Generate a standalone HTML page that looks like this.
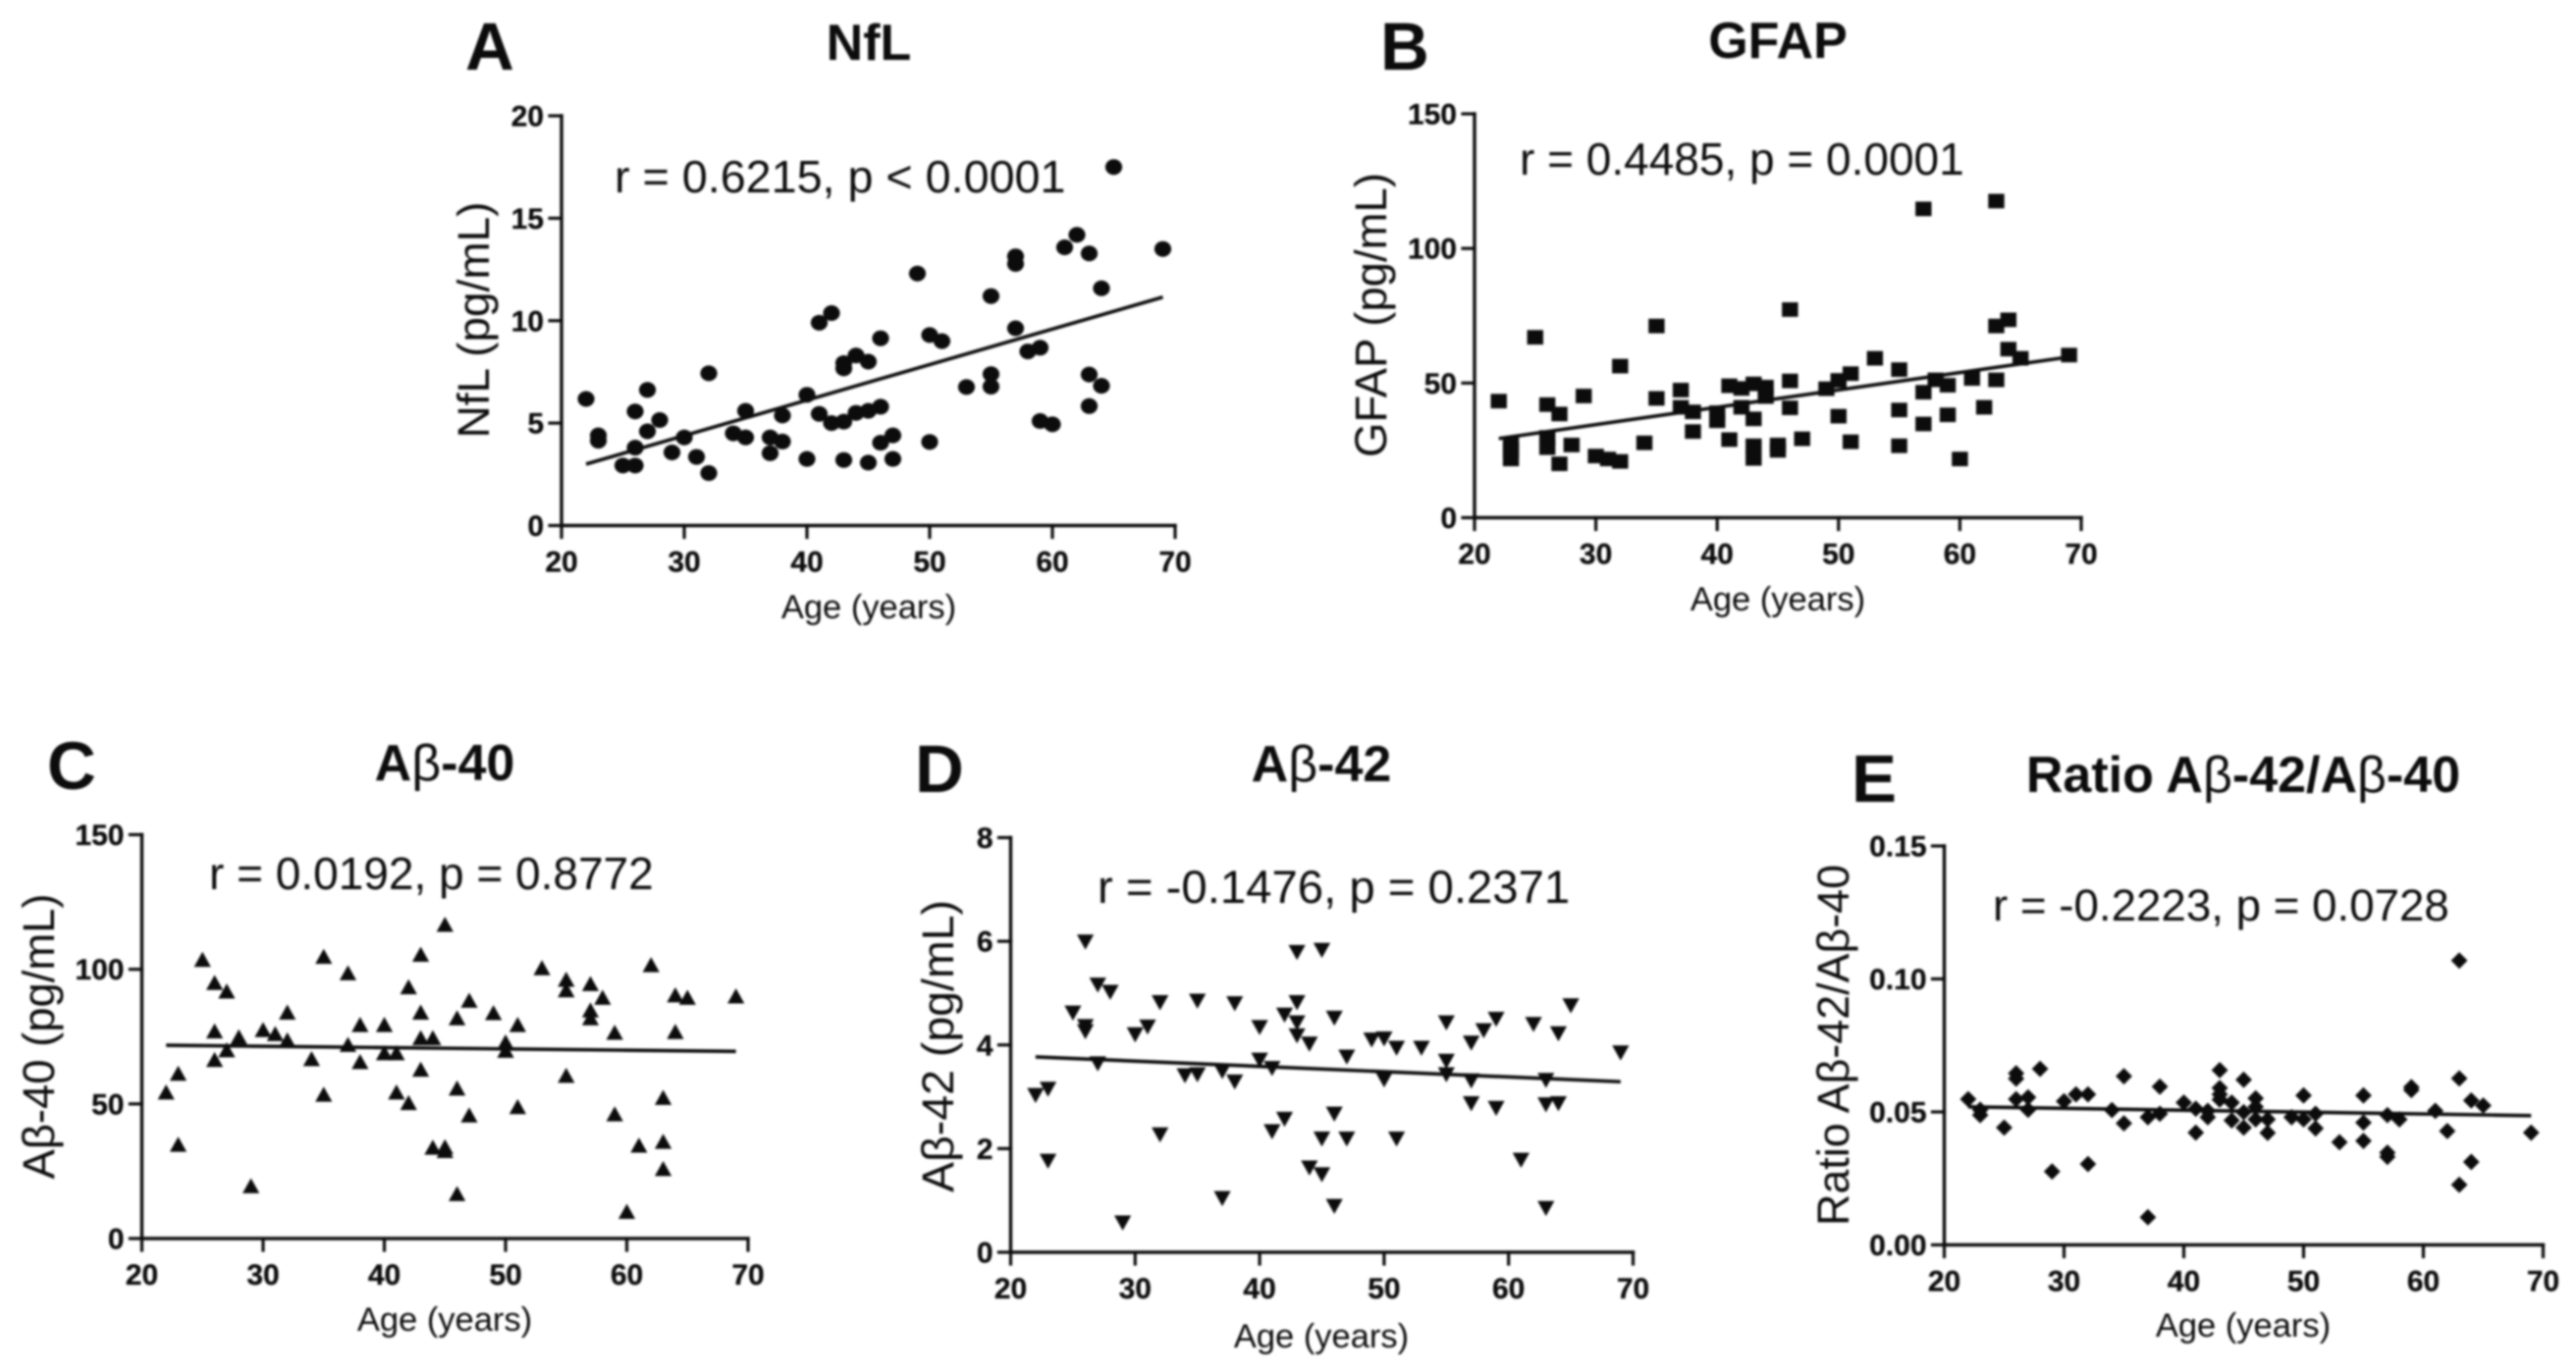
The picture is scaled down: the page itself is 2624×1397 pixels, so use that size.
<!DOCTYPE html>
<html lang="en">
<head>
<meta charset="utf-8">
<title>Age correlations of NfL, GFAP and amyloid beta</title>
<style>
html,body{margin:0;padding:0;background:#fff;width:2624px;height:1397px;overflow:hidden}
svg{display:block;filter:blur(1px)}
text{font-family:"Liberation Sans",Arial,sans-serif;fill:#0c0c0c}
.letter{font-size:69px;font-weight:700}
.title{font-size:52px;font-weight:700;text-anchor:middle}
.title tspan{font-weight:400}
.rtext{font-size:46px}
.ylab{font-size:45px;text-anchor:middle}
.xlab{font-size:34.5px;text-anchor:middle}
.tick{font-size:30px;font-weight:700;stroke:#0c0c0c;stroke-width:0.3px}
</style>
</head>
<body>
<svg xmlns="http://www.w3.org/2000/svg" width="2624" height="1397" viewBox="0 0 2624 1397">
  <rect width="2624" height="1397" fill="#fff"/>

  <g id="panel-a">
    <text class="letter" x="474" y="71">A</text>
    <text class="title" x="885" y="61">NfL</text>
    <text class="rtext" x="626" y="196" style="font-size:46.7px">r = 0.6215, p &lt; 0.0001</text>
    <text class="ylab" transform="translate(498 326) rotate(-90)" textLength="241" lengthAdjust="spacingAndGlyphs">NfL (pg/mL)</text>
    <text class="xlab" x="885" y="630">Age (years)</text>
  </g>

  <g id="panel-b">
    <text class="letter" x="1406" y="71">B</text>
    <text class="title" x="1811" y="59">GFAP</text>
    <text class="rtext" x="1548" y="178">r = 0.4485, p = 0.0001</text>
    <text class="ylab" transform="translate(1412 321) rotate(-90)" textLength="290" lengthAdjust="spacingAndGlyphs">GFAP (pg/mL)</text>
    <text class="xlab" x="1811" y="622">Age (years)</text>
  </g>

  <g id="panel-c">
    <text class="letter" x="48" y="804">C</text>
    <text class="title" x="453" y="795">A<tspan>β</tspan>-40</text>
    <text class="rtext" x="213" y="906">r = 0.0192, p = 0.8772</text>
    <text class="ylab" transform="translate(55 1056) rotate(-90)" textLength="291" lengthAdjust="spacingAndGlyphs">Aβ-40 (pg/mL)</text>
    <text class="xlab" x="453" y="1356">Age (years)</text>
  </g>

  <g id="panel-d">
    <text class="letter" x="932" y="807">D</text>
    <text class="title" x="1346" y="796">A<tspan>β</tspan>-42</text>
    <text class="rtext" x="1118" y="920" style="font-size:47.3px">r = -0.1476, p = 0.2371</text>
    <text class="ylab" transform="translate(971 1066) rotate(-90)" textLength="298" lengthAdjust="spacingAndGlyphs">Aβ-42 (pg/mL)</text>
    <text class="xlab" x="1346" y="1373">Age (years)</text>
  </g>

  <g id="panel-e">
    <text class="letter" x="1886" y="817">E</text>
    <text class="title" x="2285" y="807">Ratio A<tspan>β</tspan>-42/A<tspan>β</tspan>-40</text>
    <text class="rtext" x="2030" y="938" style="font-size:45.7px">r = -0.2223, p = 0.0728</text>
    <text class="ylab" transform="translate(1883 1065) rotate(-90)" textLength="368" lengthAdjust="spacingAndGlyphs">Ratio Aβ-42/Aβ-40</text>
    <text class="xlab" x="2285" y="1362">Age (years)</text>
  </g>
</svg>

<script>
const xTicks = [20, 30, 40, 50, 60, 70];

const agesA = [22,23,23,25,26,26,26,27,27,28,29,30,31,32,32,34,35,35,37,37,38,38,40,40,41,41,42,42,43,43,43,43,44,44,45,45,45,46,46,46,47,47,49,50,50,51,53,55,55,55,57,57,57,58,59,59,60,61,62,63,63,63,64,64,65,69];
const valuesA = [6.18,4.4,4.14,2.93,5.57,3.8,2.93,6.62,4.6,5.15,3.57,4.3,3.35,7.43,2.56,4.5,5.6,4.3,4.3,3.53,5.37,4.1,6.38,3.25,9.9,5.45,10.37,5,7.93,7.67,5.07,3.2,8.3,5.5,8,5.6,3.07,9.14,5.8,4.04,4.4,3.25,12.3,9.3,4.08,9,6.76,11.2,7.39,6.78,13.14,12.77,9.63,8.5,8.68,5.1,4.94,13.58,14.19,13.28,7.37,5.83,11.58,6.82,17.5,13.5];
const yTicksA = [0, 5, 10, 15, 20];
const yLabelsA = ['0', '5', '10', '15', '20'];
const trendAgesA = [22, 69];
const trendValuesA = [3.0, 11.15];

const agesB = [22,23,23,23,25,26,26,26,27,27,28,29,30,31,32,32,34,35,35,37,37,38,38,40,40,41,41,42,42,43,43,43,43,44,44,45,45,46,46,46,47,49,50,50,51,51,53,55,55,55,57,57,57,58,59,59,60,61,62,63,63,63,64,64,65,69];
const valuesB = [43.3,27.5,25,21.8,67,42,29.8,26,38.5,20,27,45.2,22.9,21.8,56.3,20.9,27.8,71.2,44.3,47.4,41,39.3,32,39,36,49,29,48,41,49.7,36.7,26.7,22,48.5,45,27,25,77.3,50.8,40.8,29.3,47.9,51,37.7,53.5,28.2,59.2,55,40,26.7,114.7,46.6,34.8,51.2,49.2,38.2,21.8,51.7,41,117.6,71.2,51.2,73.5,62.6,59.2,60.4];
const yTicksB = [0, 50, 100, 150];
const yLabelsB = ['0', '50', '100', '150'];
const trendAgesB = [22, 69];
const trendValuesB = [29.4, 59.7];

const agesC = [22,23,23,25,26,26,26,27,27,28,29,30,31,32,32,34,35,35,37,37,38,38,40,40,41,41,42,42,43,43,43,43,44,44,45,45,45,46,46,46,47,47,49,50,50,51,51,53,55,55,55,57,57,57,58,59,59,60,61,62,63,63,63,64,64,65,69];
const valuesC = [54.3,61.3,34.9,103.6,95,77,66.4,91.8,70,74.8,19.5,77.5,76,84,73.7,66.7,104.7,53.5,98.6,72,79.4,65.6,79.4,68.9,68.9,54.3,93.4,50.4,105.5,84,74.5,62.8,74.5,33.8,116.6,34,32.6,81.9,55.8,16.6,88.4,45.8,83.8,72.9,69.8,79.4,48.9,100.5,96.2,92.3,60.5,94.6,84.8,81.9,89.5,76.5,46.2,10,34.6,101.6,52.3,36,25.9,90.4,76.8,89.5,90];
const yTicksC = [0, 50, 100, 150];
const yLabelsC = ['0', '50', '100', '150'];
const trendAgesC = [22, 69];
const trendValuesC = [71.8, 69.5];

const agesD = [22,23,23,25,26,26,26,27,27,28,29,30,31,32,32,34,35,35,37,37,38,38,40,40,41,41,42,42,43,43,43,43,44,44,45,45,45,46,46,46,47,47,49,50,50,51,51,53,55,55,55,57,57,57,58,59,59,61,62,63,63,63,64,64,65,69];
const valuesD = [3.03,3.15,1.76,4.62,5.99,4.36,4.26,5.16,3.64,5.02,0.57,4.2,4.35,4.82,2.27,3.41,4.85,3.43,3.49,1.04,4.8,3.29,4.34,3.71,3.55,2.33,4.58,2.57,5.79,4.82,4.43,4.18,4.02,1.63,5.83,2.19,1.5,4.52,2.67,0.89,3.77,2.19,4.1,4.12,3.33,3.94,2.19,3.94,4.43,3.69,3.43,4.04,3.31,2.87,4.28,4.5,2.78,1.78,4.4,3.32,2.85,0.85,4.22,2.87,4.76,3.85];
const yTicksD = [0, 2, 4, 6, 8];
const yLabelsD = ['0', '2', '4', '6', '8'];
const trendAgesD = [22, 69];
const trendValuesD = [3.77, 3.29];

const agesE = [22,23,23,25,26,26,26,27,27,28,29,30,31,32,32,34,35,35,37,37,38,38,40,41,41,42,42,43,43,43,43,44,44,45,45,45,46,46,46,47,47,49,50,50,51,51,53,55,55,55,57,57,57,58,59,59,61,62,63,63,63,64,64,65,69];
const valuesE = [0.0548,0.0508,0.0488,0.0441,0.0645,0.0625,0.0548,0.0555,0.0508,0.0662,0.0276,0.054,0.0566,0.0566,0.0304,0.0507,0.0634,0.0457,0.048,0.0104,0.0595,0.0493,0.0535,0.0512,0.0422,0.0504,0.048,0.0657,0.059,0.0566,0.0546,0.0535,0.0468,0.0621,0.0499,0.0441,0.0551,0.0519,0.0472,0.0472,0.0421,0.048,0.0562,0.0472,0.0493,0.0438,0.0386,0.0562,0.046,0.0391,0.0488,0.0347,0.0331,0.0472,0.0593,0.0582,0.0504,0.0428,0.1069,0.0626,0.0226,0.0543,0.0312,0.0524,0.0422];
const yTicksE = [0, 0.05, 0.1, 0.15];
const yLabelsE = ['0.00', '0.05', '0.10', '0.15'];
const trendAgesE = [22, 69];
const trendValuesE = [0.0519, 0.0486];

const SVG_NS = 'http://www.w3.org/2000/svg';
const INK = '#0c0c0c';

function linearScale(domain0, domain1, range0, range1) {
  return function (v) { return range0 + (v - domain0) * (range1 - range0) / (domain1 - domain0); };
}

function makeMark(shape, cx, cy) {
  let el;
  if (shape === 'circle') {
    el = document.createElementNS(SVG_NS, 'ellipse');
    el.setAttribute('cx', cx);
    el.setAttribute('cy', cy);
    el.setAttribute('rx', 8.6);
    el.setAttribute('ry', 8);
  } else if (shape === 'square') {
    el = document.createElementNS(SVG_NS, 'rect');
    el.setAttribute('x', cx - 8.2);
    el.setAttribute('y', cy - 7.4);
    el.setAttribute('width', 16.4);
    el.setAttribute('height', 14.8);
  } else {
    el = document.createElementNS(SVG_NS, 'polygon');
    let pts;
    if (shape === 'triangle-up') {
      pts = [[cx, cy - 8], [cx + 8.6, cy + 7.4], [cx - 8.6, cy + 7.4]];
    } else if (shape === 'triangle-down') {
      pts = [[cx, cy + 8], [cx + 8.6, cy - 7.4], [cx - 8.6, cy - 7.4]];
    } else {
      pts = [[cx, cy - 8.4], [cx + 8.4, cy], [cx, cy + 8.4], [cx - 8.4, cy]];
    }
    el.setAttribute('points', pts.map(function (p) { return p.join(','); }).join(' '));
  }
  el.setAttribute('fill', INK);
  return el;
}

function makeLine(x1, y1, x2, y2, width) {
  const el = document.createElementNS(SVG_NS, 'line');
  el.setAttribute('x1', x1);
  el.setAttribute('y1', y1);
  el.setAttribute('x2', x2);
  el.setAttribute('y2', y2);
  el.setAttribute('stroke', INK);
  el.setAttribute('stroke-width', width);
  el.setAttribute('stroke-linecap', 'square');
  return el;
}

function drawPanel(id, frame, shape, ages, values, yTicks, yLabels, trendAges, trendValues) {
  const group = document.getElementById(id);
  const xScale = linearScale(xTicks[0], xTicks[xTicks.length - 1], frame.left, frame.right);
  const yScale = linearScale(yTicks[0], yTicks[yTicks.length - 1], frame.bottom, frame.top);

  const xAxis = makeLine(frame.left, frame.bottom, frame.right, frame.bottom, 3.4);
  
  
  group.appendChild(xAxis);

  const yAxis = makeLine(frame.left, frame.top, frame.left, frame.bottom, 3.4);
  
  
  group.appendChild(yAxis);

  xTicks.forEach(function (t) {
    const x = xScale(t);
    const tick = makeLine(x, frame.bottom, x, frame.bottom + 12, 3.2);
    
    
    group.appendChild(tick);

    const label = document.createElementNS(SVG_NS, 'text');
    label.setAttribute('class', 'tick');
    label.setAttribute('x', x);
    label.setAttribute('y', frame.bottom + 47);
    label.setAttribute('text-anchor', 'middle');
    label.textContent = String(t);
    
    
    group.appendChild(label);
  });

  yTicks.forEach(function (t, i) {
    const y = yScale(t);
    const tick = makeLine(frame.left - 12, y, frame.left, y, 3.2);
    
    
    group.appendChild(tick);

    const label = document.createElementNS(SVG_NS, 'text');
    label.setAttribute('class', 'tick');
    label.setAttribute('x', frame.left - 18);
    label.setAttribute('y', y + 10.5);
    label.setAttribute('text-anchor', 'end');
    label.textContent = yLabels[i];
    
    
    group.appendChild(label);
  });

  ages.forEach(function (age, i) {
    const mark = makeMark(shape, xScale(age), yScale(values[i]));
    
    
    group.appendChild(mark);
  });

  const trend = makeLine(xScale(trendAges[0]), yScale(trendValues[0]), xScale(trendAges[1]), yScale(trendValues[1]), 3.6);
  trend.setAttribute('stroke-linecap', 'butt');
  
  
  group.appendChild(trend);
}

drawPanel('panel-a', {left: 572, right: 1197, top: 118, bottom: 535.5}, 'circle', agesA, valuesA, yTicksA, yLabelsA, trendAgesA, trendValuesA);
drawPanel('panel-b', {left: 1502, right: 2120, top: 116, bottom: 527.5}, 'square', agesB, valuesB, yTicksB, yLabelsB, trendAgesB, trendValuesB);
drawPanel('panel-c', {left: 144.5, right: 762, top: 850.5, bottom: 1262}, 'triangle-up', agesC, valuesC, yTicksC, yLabelsC, trendAgesC, trendValuesC);
drawPanel('panel-d', {left: 1029.5, right: 1663.5, top: 853.5, bottom: 1276}, 'triangle-down', agesD, valuesD, yTicksD, yLabelsD, trendAgesD, trendValuesD);
drawPanel('panel-e', {left: 1980.5, right: 2590.5, top: 862, bottom: 1268.5}, 'diamond', agesE, valuesE, yTicksE, yLabelsE, trendAgesE, trendValuesE);
</script>
</body>
</html>
